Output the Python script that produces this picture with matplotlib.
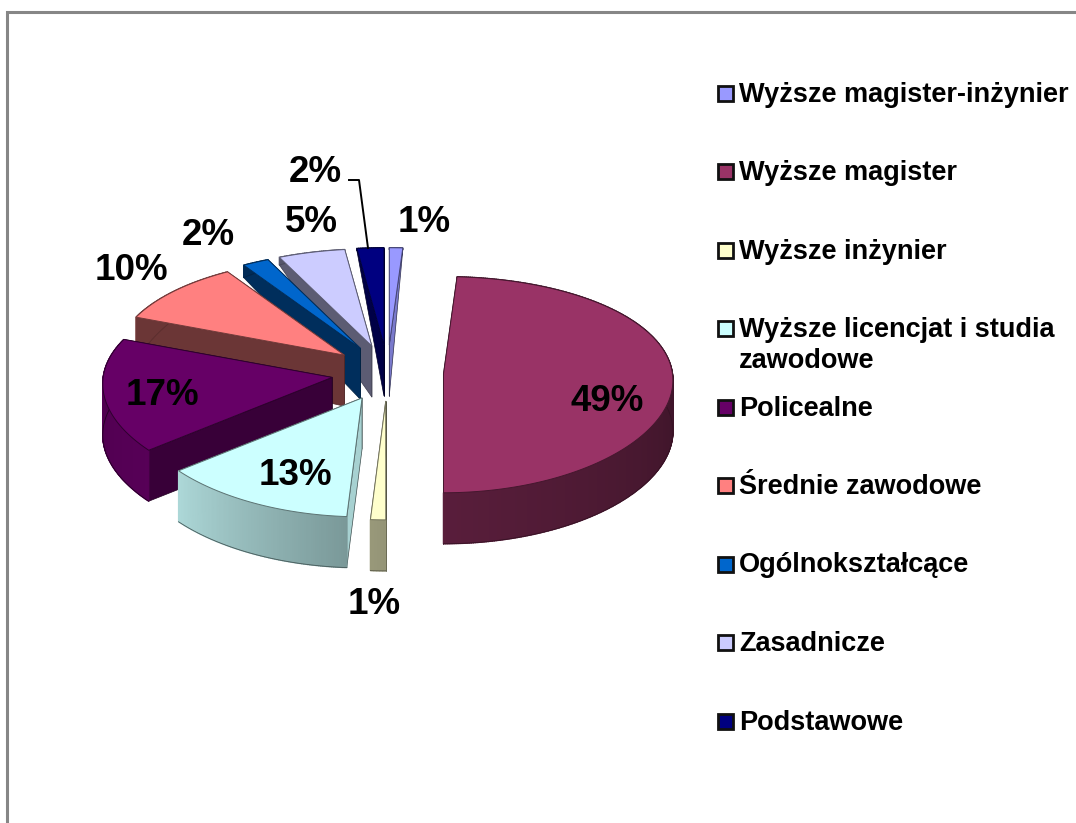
import numpy as np
import matplotlib
matplotlib.use("Agg")
import matplotlib.pyplot as plt
from matplotlib.patches import Polygon, Rectangle
from matplotlib.colors import to_rgb

plt.rcParams['font.family'] = ['Liberation Sans', 'DejaVu Sans']

labels = ["Wyższe magister-inżynier", "Wyższe magister", "Wyższe inżynier",
          "Wyższe licencjat i studia\nzawodowe", "Policealne", "Średnie zawodowe",
          "Ogólnokształcące", "Zasadnicze", "Podstawowe"]
values = [1, 49, 1, 13, 17, 10, 2, 5, 2]
colors = ["#9999FF", "#993366", "#FFFFCC", "#CCFFFF", "#660066",
          "#FF8080", "#0066CC", "#CCCCFF", "#000080"]
wall_shade = [0.8, 0.4, 0.85, 0.82, 0.55, 0.42, 0.45, 0.45, 0.55]
# label centres in pixels
pct_x = [424, 607, 374, 295, 162, 131, 208, 311, 315]
pct_y = [222, 401, 605, 475, 395, 270, 235, 222, 172]

# fake 3d, tuned by eye against the picture
cx, cy = 387.5, 372
rx, ry = 229, 107
persp_x, persp_y = 0.06, 0.10
off_x, off_y = 56, 28


def proj(ox, oy, x=0.0, y=0.0, low=False):
    # ox, oy is the explode direction, x, y a point on the unit disc
    px = cx + off_x * ox + rx * x / (1 + persp_x * y)
    py = cy - off_y * oy - ry * y / (1 + persp_y * y) + 1
    if low:
        # walls get thin towards the back
        py = py + min(51, 51 * (1.3 - (y + 0.27 * oy)) / 0.9)
    return px, py


def shade(c, f):
    return tuple(np.array(to_rgb(c)) * f)


fig = plt.figure(figsize=(10.76, 8.23), dpi=100)
ax = fig.add_axes([0, 0, 1, 1])
ax.set_xlim(0, 1076)
ax.set_ylim(823, 0)
ax.axis("off")

# frame
ax.plot([7, 7, 1076], [823, 12, 12], color="#868686", lw=2.2, solid_joinstyle="miter")

fracs = np.array(values) / sum(values) * 360
ends = np.cumsum(fracs)
starts = ends - fracs
order = [0, 8, 7, 6, 5, 1, 4, 3, 2]

z = 2
for i in order:
    a0, a1 = starts[i], ends[i]
    mid = np.radians((a0 + a1) / 2)
    ox, oy = np.sin(mid), np.cos(mid)
    th = np.radians(np.linspace(a0, a1, max(int(a1 - a0) * 2, 4)))
    ex = np.sin(th)
    ey = np.cos(th)
    c = colors[i]

    # radial walls, the one nearer the viewer goes last
    rad = [(ex[0], ey[0]), (ex[-1], ey[-1])]
    if a0 >= 180:
        rad = rad[::-1]
    for xe, ye in rad:
        pts = [proj(ox, oy), proj(ox, oy, xe, ye), proj(ox, oy, xe, ye, True), proj(ox, oy, low=True)]
        ax.add_patch(Polygon(pts, fc=shade(c, wall_shade[i]), ec=shade(c, 0.3), lw=0.5, zorder=z))
        z += 1

    # outer wall, in strips for the gradient
    for k in range(len(th) - 1):
        deg = np.degrees(th[k])
        f = np.interp(deg, [90, 180, 231, 290, 292], [0.4, 0.58, 0.85, 0.75, 0.42])
        pts = [proj(ox, oy, ex[k], ey[k]), proj(ox, oy, ex[k + 1], ey[k + 1]),
               proj(ox, oy, ex[k + 1], ey[k + 1], True), proj(ox, oy, ex[k], ey[k], True)]
        ax.add_patch(Polygon(pts, fc=shade(c, f), ec=shade(c, f), lw=1.0, zorder=z))
    z += 1
    low = [proj(ox, oy, a, b, True) for a, b in zip(ex, ey)]
    ax.plot([p[0] for p in low], [p[1] for p in low], color=shade(c, 0.35), lw=0.6, zorder=z)
    z += 1

    # top face
    top = [proj(ox, oy)] + [proj(ox, oy, a, b) for a, b in zip(ex, ey)]
    ax.add_patch(Polygon(top, fc=c, ec=shade(c, 0.45), lw=0.7, zorder=z))
    z += 1

for v, x, y in zip(values, pct_x, pct_y):
    ax.text(x, y, f"{v}%", ha="center", va="center", fontsize=26.5,
            fontweight="bold", color="black", zorder=z)

# leader for the small navy slice
ax.plot([349, 359, 368], [180, 180, 248], color="black", lw=1.4, zorder=z)

# legend
for i, lab in enumerate(labels):
    y = 93 + 78.5 * i
    ax.add_patch(Rectangle((717.5, y - 7.5), 15, 15, fc=colors[i], ec="#111111", lw=2))
    for j, line in enumerate(lab.split("\n")):
        ax.text(739, y + 1.5 + 31 * j, line, ha="left", va="center", fontsize=19.5,
                fontweight="bold", color="black")

fig.savefig("out.png", dpi=100)
